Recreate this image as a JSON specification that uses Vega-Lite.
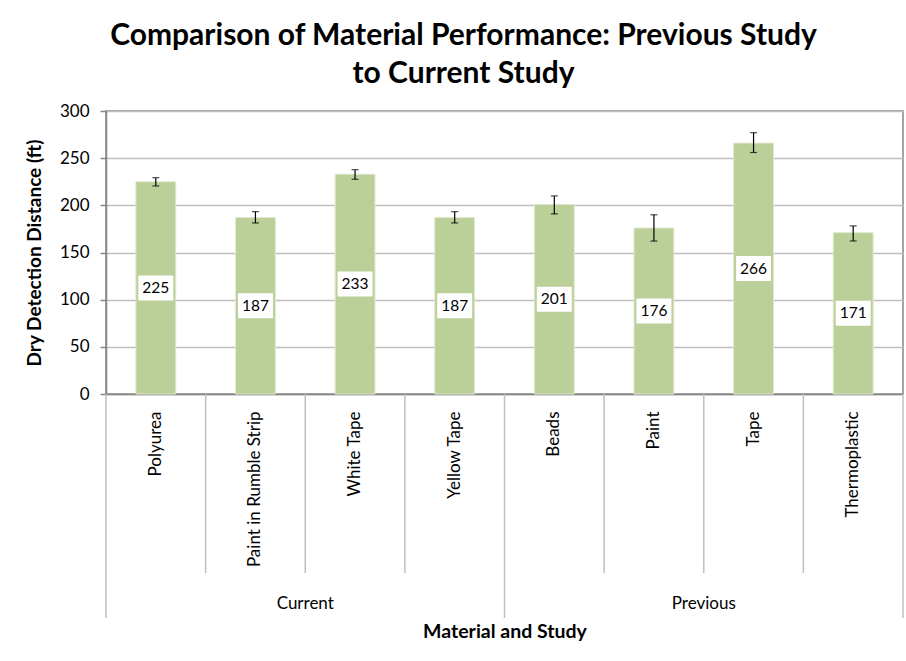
{
  "$schema": "https://vega.github.io/schema/vega-lite/v6.json",
  "autosize": "none",
  "width": 797,
  "height": 283,
  "padding": {"left": 106, "top": 111, "right": 3, "bottom": 267},
  "background": "white",
  "config": {
    "view": {"stroke": "#868686", "strokeWidth": 1.5},
    "font": "Lato"
  },
  "title": {
    "text": ["Comparison of Material Performance: Previous Study", "to Current Study"],
    "font": "Lato",
    "fontSize": 30,
    "fontWeight": "bold",
    "color": "#000000",
    "lineHeight": 38,
    "anchor": "middle",
    "dx": -41,
    "offset": 13
  },
  "resolve": {"scale": {"y": "independent"}},
  "datasets": {
    "main": [
      {"material": "Polyurea", "study": "Current", "value": 225, "lo": 220.5, "hi": 229.3},
      {"material": "Paint in Rumble Strip", "study": "Current", "value": 187, "lo": 181.3, "hi": 193.3},
      {"material": "White Tape", "study": "Current", "value": 233, "lo": 227.6, "hi": 237.8},
      {"material": "Yellow Tape", "study": "Current", "value": 187, "lo": 181.3, "hi": 193.3},
      {"material": "Beads", "study": "Previous", "value": 201, "lo": 190.9, "hi": 210},
      {"material": "Paint", "study": "Previous", "value": 176, "lo": 162.1, "hi": 190},
      {"material": "Tape", "study": "Previous", "value": 266, "lo": 256, "hi": 277},
      {"material": "Thermoplastic", "study": "Previous", "value": 171, "lo": 162.2, "hi": 178.2}
    ],
    "groups": [
      {"material": "White Tape", "label": "Current"},
      {"material": "Tape", "label": "Previous"}
    ]
  },
  "layer": [
    {
      "data": {"name": "main"},
      "mark": {"type": "bar", "color": "#bbcf98", "stroke": "#dfe9cf", "strokeWidth": 1, "width": {"band": 0.4}},
      "encoding": {
        "x": {
          "field": "material",
          "type": "nominal",
          "sort": null,
          "scale": {"paddingInner": 0, "paddingOuter": 0},
          "axis": {
            "title": "Material and Study",
            "titleFont": "Lato",
            "titleFontSize": 19.5,
            "titleFontWeight": "bold",
            "titleColor": "#000000",
            "titlePadding": 56,
            "labelAngle": -90,
            "labelFont": "Lato",
            "labelFontSize": 17,
            "labelColor": "#000000",
            "labelPadding": 17,
            "labelLimit": 300,
            "ticks": false,
            "domainColor": "#868686",
            "domainWidth": 1.5
          }
        },
        "y": {
          "field": "value",
          "type": "quantitative",
          "scale": {"domain": [0, 300]},
          "axis": {
            "title": "Dry Detection Distance  (ft)",
            "titleFont": "Lato",
            "titleFontSize": 19,
            "titleFontWeight": "bold",
            "titleColor": "#000000",
            "titlePadding": 15,
            "values": [0, 50, 100, 150, 200, 250, 300],
            "labelFont": "Lato",
            "labelFontSize": 17,
            "labelColor": "#000000",
            "labelPadding": 11,
            "tickSize": 6,
            "tickColor": "#868686",
            "tickWidth": 1.5,
            "domainColor": "#868686",
            "domainWidth": 1.5,
            "gridColor": "#bfbfbf",
            "gridWidth": 1.5
          }
        }
      }
    },
    {
      "data": {"name": "main"},
      "mark": {"type": "rule", "color": "#000000", "strokeWidth": 1.2},
      "encoding": {
        "x": {"field": "material", "type": "nominal", "sort": null},
        "y": {"field": "lo", "type": "quantitative", "scale": {"domain": [0, 300]}, "axis": null},
        "y2": {"field": "hi"}
      }
    },
    {
      "data": {"name": "main"},
      "mark": {"type": "tick", "color": "#000000", "size": 7, "thickness": 1.2},
      "encoding": {
        "x": {"field": "material", "type": "nominal", "sort": null},
        "y": {"field": "lo", "type": "quantitative", "scale": {"domain": [0, 300]}, "axis": null}
      }
    },
    {
      "data": {"name": "main"},
      "mark": {"type": "tick", "color": "#000000", "size": 7, "thickness": 1.2},
      "encoding": {
        "x": {"field": "material", "type": "nominal", "sort": null},
        "y": {"field": "hi", "type": "quantitative", "scale": {"domain": [0, 300]}, "axis": null}
      }
    },
    {
      "data": {"name": "main"},
      "mark": {"type": "point", "shape": "M-1.4,-1H1.4V1H-1.4Z", "filled": true, "color": "white", "opacity": 1, "size": 625},
      "encoding": {
        "x": {"field": "material", "type": "nominal", "sort": null},
        "y": {"field": "value", "type": "quantitative", "scale": {"domain": [0, 600]}, "axis": null}
      }
    },
    {
      "data": {"name": "main"},
      "mark": {"type": "text", "font": "Lato", "fontSize": 15.5, "color": "#000000", "baseline": "middle", "align": "center"},
      "encoding": {
        "x": {"field": "material", "type": "nominal", "sort": null},
        "y": {"field": "value", "type": "quantitative", "scale": {"domain": [0, 600]}, "axis": null},
        "text": {"field": "value", "type": "quantitative"}
      }
    },
    {
      "data": {"name": "main"},
      "transform": [{"filter": "datum.material != 'Polyurea' && datum.material != 'Beads'"}],
      "mark": {"type": "rule", "color": "#bfbfbf", "strokeWidth": 1.5},
      "encoding": {
        "x": {"field": "material", "type": "nominal", "sort": null, "bandPosition": 0},
        "y": {"datum": 0, "type": "quantitative", "scale": {"domain": [0, 300]}, "axis": null},
        "y2": {"datum": -189.8}
      }
    },
    {
      "data": {"name": "main"},
      "transform": [{"filter": "datum.material == 'Polyurea' || datum.material == 'Beads'"}],
      "mark": {"type": "rule", "color": "#bfbfbf", "strokeWidth": 1.5},
      "encoding": {
        "x": {"field": "material", "type": "nominal", "sort": null, "bandPosition": 0},
        "y": {"datum": 0, "type": "quantitative", "scale": {"domain": [0, 300]}, "axis": null},
        "y2": {"datum": -237.5}
      }
    },
    {
      "data": {"name": "main"},
      "transform": [{"filter": "datum.material == 'Thermoplastic'"}],
      "mark": {"type": "rule", "color": "#bfbfbf", "strokeWidth": 1.5},
      "encoding": {
        "x": {"field": "material", "type": "nominal", "sort": null, "bandPosition": 1},
        "y": {"datum": 0, "type": "quantitative", "scale": {"domain": [0, 300]}, "axis": null},
        "y2": {"datum": -237.5}
      }
    },
    {
      "data": {"name": "groups"},
      "mark": {"type": "text", "font": "Lato", "fontSize": 17, "color": "#000000", "baseline": "middle", "align": "center"},
      "encoding": {
        "x": {"field": "material", "type": "nominal", "sort": null, "bandPosition": 0},
        "y": {"datum": -222.7, "type": "quantitative", "scale": {"domain": [0, 300]}, "axis": null},
        "text": {"field": "label"}
      }
    }
  ]
}
